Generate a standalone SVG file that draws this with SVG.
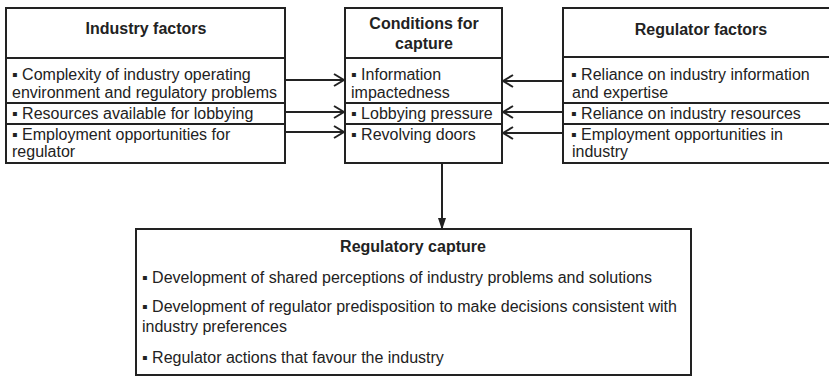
<svg xmlns="http://www.w3.org/2000/svg" width="829" height="376" viewBox="0 0 829 376">
<style>
  .box { fill: #fff; stroke: #222; stroke-width: 2; }
  .sep { stroke: #222; stroke-width: 2; }
  .t { font-family: "Liberation Sans", Arial, sans-serif; font-size: 16px; fill: #222; }
  .h { font-family: "Liberation Sans", Arial, sans-serif; font-size: 16px; font-weight: bold; fill: #222; text-anchor: middle; }
  .conn { stroke: #222; stroke-width: 2; fill: none; }
</style>
<defs>
  <marker id="open" viewBox="0 0 12 14" refX="11" refY="7" markerWidth="12" markerHeight="14" orient="auto" markerUnits="userSpaceOnUse">
    <path d="M1,1 L11,7 L1,13" fill="none" stroke="#222" stroke-width="2"/>
  </marker>
  <marker id="solid" viewBox="0 0 8 12" refX="4" refY="11" markerWidth="8" markerHeight="12" orient="0" markerUnits="userSpaceOnUse">
    <path d="M0,0 L8,0 L4,12 Z" fill="#222"/>
  </marker>
</defs>
<rect width="829" height="376" fill="#fff"/>

<g id="industry-factors">
  <rect class="box" x="6" y="8" width="279" height="155"/>
  <line class="sep" x1="6" y1="58" x2="285" y2="58"/>
  <line class="sep" x1="6" y1="103" x2="285" y2="103"/>
  <line class="sep" x1="6" y1="124" x2="285" y2="124"/>
  <text class="h" x="146" y="34">Industry factors</text>
  <text class="t" x="12" y="80">▪ Complexity of industry operating</text>
  <text class="t" x="12" y="98">environment and regulatory problems</text>
  <text class="t" x="12" y="119">▪ Resources available for lobbying</text>
  <text class="t" x="12" y="140">▪ Employment opportunities for</text>
  <text class="t" x="12" y="157">regulator</text>
</g>

<g id="conditions-for-capture">
  <rect class="box" x="345" y="8" width="157" height="155"/>
  <line class="sep" x1="345" y1="58" x2="502" y2="58"/>
  <line class="sep" x1="345" y1="103" x2="502" y2="103"/>
  <line class="sep" x1="345" y1="124" x2="502" y2="124"/>
  <text class="h" x="424" y="29">Conditions for</text>
  <text class="h" x="424" y="49">capture</text>
  <text class="t" x="351" y="80">▪ Information</text>
  <text class="t" x="351" y="98">impactedness</text>
  <text class="t" x="351" y="119">▪ Lobbying pressure</text>
  <text class="t" x="351" y="140">▪ Revolving doors</text>
</g>

<g id="regulator-factors">
  <rect class="box" x="563" y="8" width="280" height="155"/>
  <line class="sep" x1="563" y1="57" x2="843" y2="57"/>
  <line class="sep" x1="563" y1="103" x2="843" y2="103"/>
  <line class="sep" x1="563" y1="124" x2="843" y2="124"/>
  <text class="h" x="701" y="35">Regulator factors</text>
  <text class="t" x="571" y="80">▪ Reliance on industry information</text>
  <text class="t" x="572" y="98">and expertise</text>
  <text class="t" x="571" y="119">▪ Reliance on industry resources</text>
  <text class="t" x="571" y="140">▪ Employment opportunities in</text>
  <text class="t" x="572" y="157">industry</text>
</g>

<g id="regulatory-capture">
  <rect class="box" x="136" y="229" width="555" height="146"/>
  <text class="h" x="413" y="252">Regulatory capture</text>
  <text class="t" x="142" y="283">▪ Development of shared perceptions of industry problems and solutions</text>
  <text class="t" x="142" y="312">▪ Development of regulator predisposition to make decisions consistent with</text>
  <text class="t" x="142" y="332">industry preferences</text>
  <text class="t" x="142" y="363">▪ Regulator actions that favour the industry</text>
</g>

<g id="connectors">
  <line class="conn" x1="285" y1="80" x2="344" y2="80" marker-end="url(#open)"/>
  <line class="conn" x1="285" y1="112" x2="344" y2="112" marker-end="url(#open)"/>
  <line class="conn" x1="285" y1="132" x2="344" y2="132" marker-end="url(#open)"/>
  <line class="conn" x1="563" y1="81" x2="503" y2="81" marker-end="url(#open)"/>
  <line class="conn" x1="563" y1="112" x2="503" y2="112" marker-end="url(#open)"/>
  <line class="conn" x1="563" y1="133" x2="503" y2="133" marker-end="url(#open)"/>
  <line class="conn" x1="442" y1="163" x2="442" y2="229" marker-end="url(#solid)"/>
</g>
</svg>
